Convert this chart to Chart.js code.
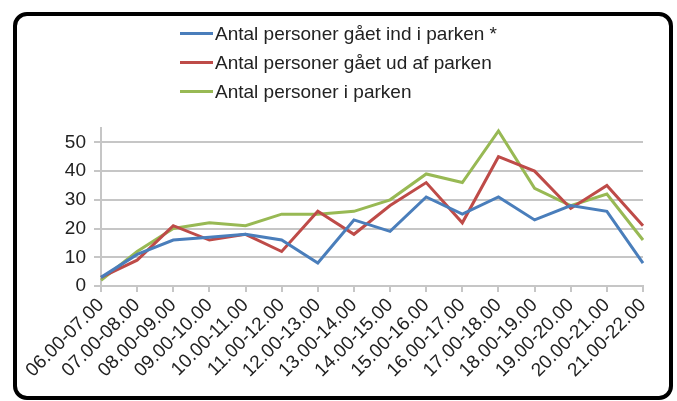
<!DOCTYPE html>
<html>
<head>
<meta charset="utf-8">
<script src="https://cdn.jsdelivr.net/npm/chart.js@4"></script>
<style>
  body { margin: 0; background: #fff; }
  .wrap { position: relative; width: 677px; height: 401px; overflow: hidden; }
  .frame { position: absolute; left: 13px; top: 12px; width: 652px; height: 380px; border: 4px solid #000; border-radius: 14px; }
  canvas { position: absolute; left: 0; top: 0; }
  .legend { position: absolute; left: 180px; top: 19px; font: 19px 'Liberation Sans', Arial, sans-serif; color: #222; }
  .legend div { height: 29px; display: flex; align-items: center; }
  .legend .line { display: inline-block; width: 33px; height: 3px; margin-right: 2px; }
</style>
</head>
<body>
<div class="wrap">
  <div class="frame"></div>
  <canvas id="myChart" width="677" height="401"></canvas>
  <div class="legend" id="legend"></div>
</div>
<script>
const categories = ['06.00-07.00', '07.00-08.00', '08.00-09.00', '09.00-10.00', '10.00-11.00', '11.00-12.00',
  '12.00-13.00', '13.00-14.00', '14.00-15.00', '15.00-16.00', '16.00-17.00', '17.00-18.00',
  '18.00-19.00', '19.00-20.00', '20.00-21.00', '21.00-22.00'];
const personsIn = [3, 11, 16, 17, 18, 16, 8, 23, 19, 31, 25, 31, 23, 28, 26, 8];
const personsOut = [3, 9, 21, 16, 18, 12, 26, 18, 28, 36, 22, 45, 40, 27, 35, 21];
const personsInPark = [2, 12, 20, 22, 21, 25, 25, 26, 30, 39, 36, 54, 34, 28, 32, 16];
const yTickValues = [0, 10, 20, 30, 40, 50];

const font = { family: "'Liberation Sans', Arial, sans-serif", size: 19 };
const gridColor = '#c6c6c6';

const ctx = document.getElementById('myChart').getContext('2d');
// eslint-disable-next-line no-undef
const chart = new Chart(ctx, {
  type: 'line',
  data: {
    labels: categories,
    datasets: [{
      label: 'Antal personer gået ind i parken *',
      borderColor: '#4a7ebb',
      backgroundColor: '#4a7ebb',
      data: personsIn,
    },
    {
      label: 'Antal personer gået ud af parken',
      borderColor: '#be4b48',
      backgroundColor: '#be4b48',
      data: personsOut,
    },
    {
      label: 'Antal personer i parken',
      borderColor: '#98b954',
      backgroundColor: '#98b954',
      data: personsInPark,
    }]
  },
  options: {
    responsive: false,
    animation: false,
    layout: { padding: { top: 128, right: 34, left: 0, bottom: 0 } },
    elements: {
      point: { radius: 0 },
      line: { borderWidth: 3, tension: 0 }
    },
    plugins: {
      legend: { display: false },
      tooltip: { enabled: false }
    },
    scales: {
      x: {
        offset: false,
        afterFit: function(scale){ scale.height = 115; },
        grid: { drawOnChartArea: false, drawTicks: true, tickLength: 6, color: gridColor, lineWidth: 2 },
        border: { display: true, color: gridColor, width: 2 },
        ticks: { autoSkip: false, minRotation: 45, maxRotation: 45, font: font, color: '#222', padding: 2 }
      },
      y: {
        min: 0,
        max: 55,
        afterFit: function(scale){ scale.width = 101; },
        afterBuildTicks: function(scale){
          scale.ticks = yTickValues.map(function(v){ return { value: v }; });
        },
        grid: { color: gridColor, lineWidth: 2, tickLength: 7 },
        border: { display: true, color: gridColor, width: 2 },
        ticks: { font: font, color: '#222', padding: 8 }
      }
    }
  }
});

// legend stacked vertically like the original
const legendBox = document.getElementById('legend');
for(let ds of chart.data.datasets){
  const row = document.createElement('div');
  const line = document.createElement('span');
  line.className = 'line';
  line.style.background = ds.borderColor;
  row.appendChild(line);
  row.appendChild(document.createTextNode(ds.label));
  legendBox.appendChild(row);
}
</script>
</body>
</html>
